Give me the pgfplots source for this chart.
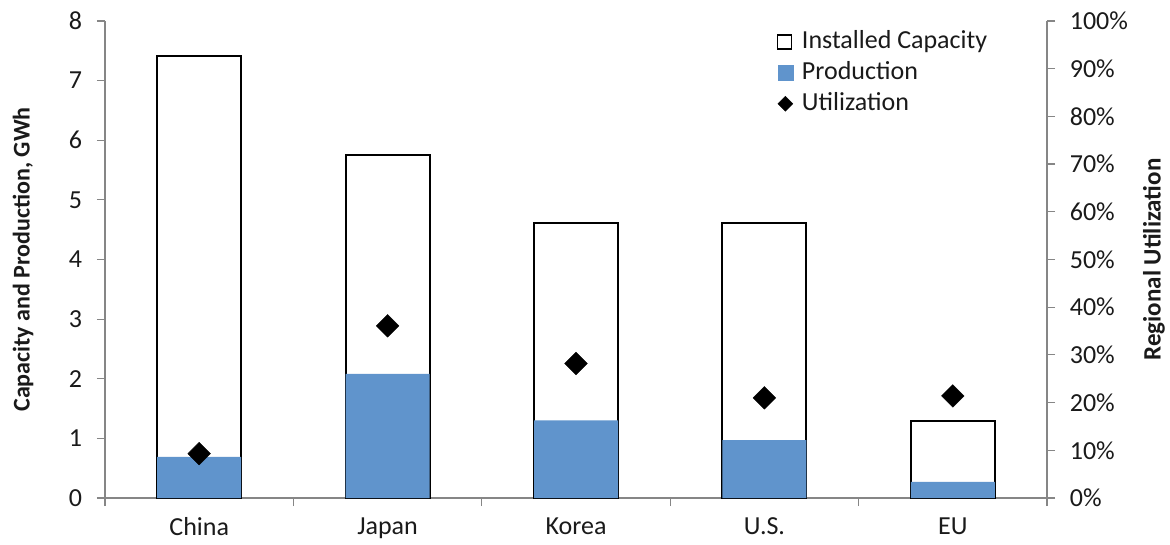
\documentclass[border=0pt]{standalone}
\usepackage{pgfplots}
\pgfplotsset{compat=1.18}
\usepackage{fontspec}
\setmainfont{Carlito}
\definecolor{prodblue}{HTML}{6094CC}
\definecolor{axgray}{HTML}{868686}
\definecolor{txt}{HTML}{1A1A1A}
\begin{document}
\fontsize{26bp}{31bp}\selectfont
\begin{tikzpicture}
\useasboundingbox (-105bp,-47bp) rectangle (1065bp,498bp);
\begin{axis}[
  at={(0,0)}, anchor=south west,
  scale only axis, width=942bp, height=477bp,
  xmin=-0.5, xmax=4.5, ymin=0, ymax=8,
  axis x line*=bottom, axis y line*=left,
  axis line style={axgray, line width=1.2bp, -},
  every tick/.style={axgray, line width=1.2bp},
  tick align=outside, major tick length=8bp,
  xtick={-0.5,0.5,1.5,2.5,3.5,4.5},
  xticklabels={China,Japan,Korea,U.S.,EU},
  x tick label as interval,
  ytick={0,1,...,8},
  /pgf/number format/assume math mode=true,
  tick label style={font=\fontsize{26bp}{31bp}\selectfont, text=txt},
  yticklabel style={xshift=-6bp},
  xticklabel style={yshift=-3bp},
  ylabel={\textbf{Capacity and Production, GWh}},
  ylabel style={at={(axis description cs:-0.087,0.5)}, anchor=center, font=\fontsize{24bp}{28bp}\selectfont, text=txt},
  ybar, bar width=84bp, bar shift=0pt,
  clip=false,
]
\addplot[ybar, fill=white, draw=black, line width=2bp] coordinates {(0,7.41)(1,5.76)(2,4.61)(3,4.61)(4,1.29)};
\addplot[ybar, fill=prodblue, draw=none] coordinates {(0,0.69)(1,2.08)(2,1.30)(3,0.97)(4,0.27)};
\end{axis}
\begin{axis}[
  at={(0,0)}, anchor=south west,
  scale only axis, width=942bp, height=477bp,
  xmin=-0.5, xmax=4.5, ymin=0, ymax=100,
  axis y line*=right, axis x line=none,
  axis line style={axgray, line width=1.2bp, -},
  every tick/.style={axgray, line width=1.2bp},
  tick align=outside, major tick length=8bp,
  ytick={0,10,...,100},
  yticklabel={\pgfmathprintnumber{\tick}\%},
  /pgf/number format/assume math mode=true,
  tick label style={font=\fontsize{26bp}{31bp}\selectfont, text=txt},
  yticklabel style={xshift=6bp},
  ylabel={\textbf{Regional Utilization}},
  ylabel style={at={(axis description cs:1.1135,0.5)}, anchor=center, font=\fontsize{25bp}{30bp}\selectfont, text=txt},
  legend style={draw=none, fill=none, at={(rel axis cs:0.942,0.988)}, anchor=north east,
    font=\fontsize{26bp}{31bp}\selectfont, text=txt, row sep=5bp,
    legend cell align=left},
  clip=false,
]
\addlegendimage{legend image code/.code={\draw[black, line width=1.3bp, fill=white] (0bp,-7bp) rectangle (14bp,7bp); \path (22bp,0bp);}}
\addlegendentry{Installed Capacity}
\addlegendimage{legend image code/.code={\fill[prodblue] (0bp,-7bp) rectangle (15bp,8bp); \path (22bp,0bp);}}
\addlegendentry{Production}
\addlegendimage{legend image code/.code={\fill[black] (7.5bp,-7.5bp) -- (15bp,0bp) -- (7.5bp,7.5bp) -- (0bp,0bp) -- cycle; \path (22bp,0bp);}}
\addlegendentry{Utilization}
\addplot[only marks, mark=square*, mark options={rotate=45, fill=black, draw=black}, mark size=8bp, forget plot]
  coordinates {(0,9.3)(1,36.1)(2,28.2)(3,21.0)(4,21.4)};
\end{axis}
\end{tikzpicture}
\end{document}
